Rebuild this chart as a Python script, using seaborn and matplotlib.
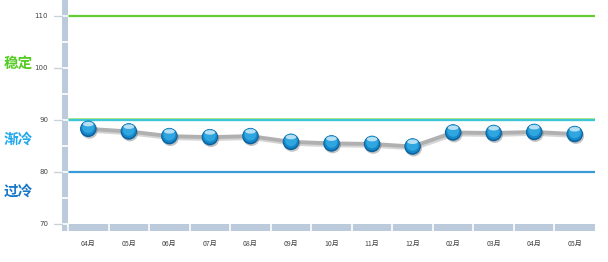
import numpy as np
import pandas as pd
import matplotlib
matplotlib.use("Agg")
import matplotlib.pyplot as plt
import matplotlib.transforms as mtransforms
from matplotlib.path import Path
from matplotlib.markers import MarkerStyle
from matplotlib.patches import Rectangle
import seaborn as sns

# ---- data ----
months = ["04月", "05月", "06月", "07月", "08月", "09月", "10月", "11月", "12月", "02月", "03月", "04月", "05月"]
values = [88.3, 87.8, 86.9, 86.7, 86.9, 85.8, 85.5, 85.4, 84.9, 87.6, 87.5, 87.7, 87.3]
y_ticks = [70, 80, 90, 100, 110]
zone_lines = [110, 90, 80]
zone_labels = ["稳定", "渐冷", "过冷"]
zone_label_y = [101.1, 86.4, 76.4]

sns.set_theme(style="white")
plt.rcParams['font.family'] = ['Noto Sans CJK SC', 'DejaVu Sans']

W, H, DPI = 608, 262, 100
fig = plt.figure(figsize=(W / DPI, H / DPI), dpi=DPI)
fig.patch.set_facecolor("white")

left_px, right_px, bottom_px = 68, 595, 224
ymin = 70
px_per_unit = 5.2
ymax = 110 + 16 / px_per_unit
ax = fig.add_axes([left_px / W, (H - bottom_px) / H, (right_px - left_px) / W, bottom_px / H])
ax.set_xlim(-0.5, len(months) - 0.5)
ax.set_ylim(ymin, ymax)
for s in ax.spines.values():
    s.set_visible(False)
ax.set_xticks([])
ax.set_yticks([])

strip = "#bccbdc"
fig.patches.append(Rectangle((62 / W, (H - 231) / H), 6 / W, 231 / H, transform=fig.transFigure,
                             facecolor=strip, edgecolor="none", zorder=0))
fig.patches.append(Rectangle((62 / W, (H - 231) / H), (right_px - 62) / W, 7 / H, transform=fig.transFigure,
                             facecolor=strip, edgecolor="none", zorder=0))
fig_trans = fig.transFigure
for v in np.arange(70, 111, 5):
    ypx = bottom_px - (v - ymin) * px_per_unit
    fig.add_artist(plt.Line2D([62 / W, 68 / W], [(H - ypx) / H] * 2, transform=fig_trans,
                              color="white", lw=1.2, zorder=1))
for i in range(len(months)):
    xpx = left_px + i * (right_px - left_px) / len(months)
    fig.add_artist(plt.Line2D([xpx / W] * 2, [(H - 231) / H, (H - 224) / H], transform=fig_trans,
                              color="white", lw=1.2, zorder=1))

for v in y_ticks:
    ypx = bottom_px - (v - ymin) * px_per_unit
    yf = (H - ypx) / H
    fig.add_artist(plt.Line2D([54 / W, 62 / W], [yf, yf], transform=fig_trans, color="#c8d2dc", lw=1))
    fig.text(48 / W, yf, f"{v}", ha="right", va="center", fontsize=5, color="#444444",
             family=['DejaVu Sans'])

for i, m in enumerate(months):
    ax.text(i, -0.09, m, transform=mtransforms.blended_transform_factory(ax.transData, ax.transAxes),
            ha="center", va="center", fontsize=5, color="#444444")

ax.axhline(110, color="#66cc33", lw=1.6, zorder=2)
ax.axhline(90, color="#3cc6d6", lw=1.7, zorder=2)
green_off = mtransforms.offset_copy(ax.transData, fig=fig, x=0, y=1.1, units="points")
ax.plot([-0.5, len(months) - 0.5], [90, 90], color="#a6e47a", lw=0.6, transform=green_off, zorder=2)
ax.axhline(80, color="#3a9ad8", lw=1.6, zorder=2)

label_colors = ["#55cc22", "#22a8ee", "#1a78c8"]
for lab, yv, c in zip(zone_labels, zone_label_y, label_colors):
    ypx = bottom_px - (yv - ymin) * px_per_unit
    fig.text(4 / W, (H - ypx) / H, lab, ha="left", va="center", fontsize=10.5, fontweight="bold", color=c)

df = pd.DataFrame({"x": np.arange(len(months)), "v": values})

shadow_t = mtransforms.offset_copy(ax.transData, fig=fig, x=0.8, y=-1.2, units="points")
sns.lineplot(data=df, x="x", y="v", ax=ax, color="#888888", lw=3.2, alpha=0.35, zorder=3, legend=False)
ax.lines[-1].set_transform(shadow_t)
sns.lineplot(data=df, x="x", y="v", ax=ax, color="#b0b0b0", lw=2.8, zorder=4, legend=False)

d_pt = 16.5 * 72 / DPI
def layer(size_pt, color, dx=0, dy=0, marker="o", alpha=1.0, z=5):
    sns.scatterplot(data=df, x="x", y="v", ax=ax, s=size_pt ** 2, color=color, marker=marker,
                    edgecolor="none", linewidth=0, alpha=alpha, zorder=z, legend=False)
    coll = ax.collections[-1]
    coll.set_offset_transform(mtransforms.offset_copy(ax.transData, fig=fig, x=dx, y=dy, units="points"))

layer(d_pt, "#555555", dx=0.8, dy=-1.2, alpha=0.35, z=5)
layer(d_pt, "#0a63a0", z=6)
layer(d_pt * 0.88, "#1688c8", dy=0.5, z=7)
layer(d_pt * 0.72, "#2fa6e0", dy=1.2, z=8)
ell = Path.unit_circle().transformed(mtransforms.Affine2D().scale(1.0, 0.42))
layer(d_pt * 0.64, "white", dy=3.4, marker=MarkerStyle(ell), alpha=0.65, z=9)
ax.set_xlabel("")
ax.set_ylabel("")
ax.set_xticks([])
ax.set_yticks([])
ax.set_xlim(-0.5, len(months) - 0.5)
ax.set_ylim(ymin, ymax)

fig.savefig("out.png", dpi=DPI, facecolor="white")
